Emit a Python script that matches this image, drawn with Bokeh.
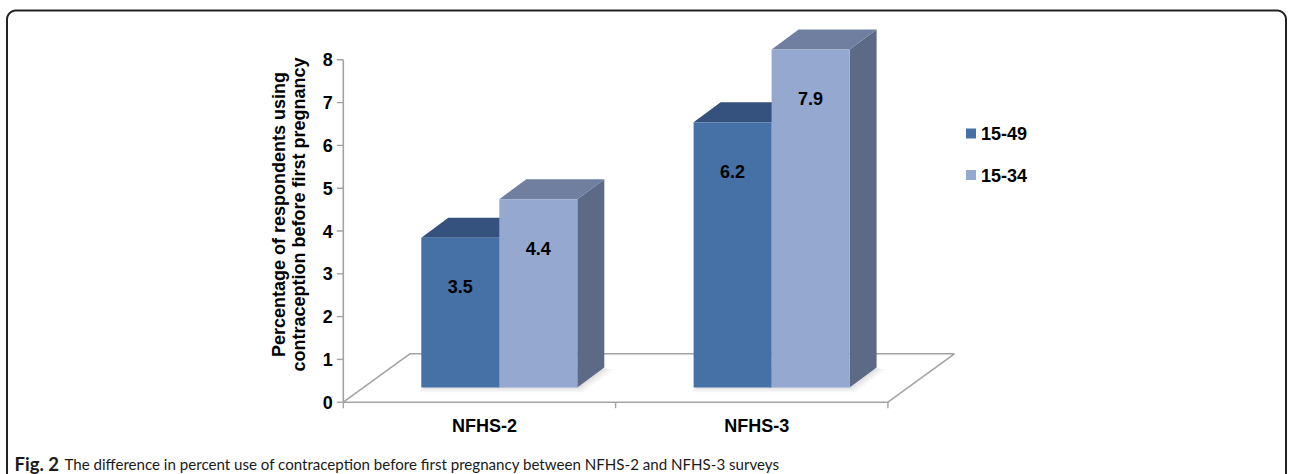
import math
from bokeh.plotting import figure
from bokeh.models import Range1d
from bokeh.core.properties import value
from bokeh.embed import file_html
from bokeh.resources import INLINE

# ---------------- data ----------------
categories = ["NFHS-2", "NFHS-3"]
series_names = ["15-49", "15-34"]
values_15_49 = [3.5, 6.2]
values_15_34 = [4.4, 7.9]
y_ticks = [0, 1, 2, 3, 4, 5, 6, 7, 8]
y_title = ["Percentage of respondents using", "contraception before first pregnancy"]
caption_bold = "Fig. 2"
caption_rest = "The difference in percent use of contraception before first pregnancy between NFHS-2 and NFHS-3 surveys"

# ---------------- layout / style ----------------
W, H = 1292, 474
PXY = 42.8          # pixels per value unit
PXX = 272.3         # pixels per category
OX = 342.8          # canvas x of axis origin
OY = 401.7          # canvas y of axis origin (from top)

def hx(px):
    return px / PXX

def vy(px):
    return px / PXY

def P(px, py):
    """canvas pixel -> data coords (for decoration only)"""
    return (px - OX) / PXX, (OY - py) / PXY

FONT = value("Liberation Sans")
CAPFONT = value("Lato")
front_cols = ["#4571A7", "#94A8D0"]
top_cols = ["#34527D", "#707F9F"]
side_cols = ["#2F4A72", "#5D6A86"]
axis_col = "#a3a3a3"

p = figure(width=W, height=H, output_backend="svg", toolbar_location=None,
           x_range=Range1d(-OX / PXX, (W - OX) / PXX),
           y_range=Range1d(-(H - OY) / PXY, OY / PXY),
           min_border=0, min_border_left=0, min_border_right=0,
           min_border_top=0, min_border_bottom=0)
p.xaxis.visible = False
p.yaxis.visible = False
p.grid.visible = False
p.outline_line_color = None
p.background_fill_color = "white"
p.border_fill_color = "white"

ncat = len(categories)

# ---------------- floor ----------------
fdx, fdy = hx(66.5), vy(48.4)
floor_x = [0, fdx, ncat + fdx, ncat, 0]
floor_y = [0, fdy, fdy, 0, 0]
p.line(floor_x, floor_y, line_color=axis_col, line_width=1.6)

# ---------------- bars ----------------
base = vy(14.7)
bw = hx(78)
ddx, ddy = hx(27), vy(20)
series_vals = [values_15_49, values_15_34]

# faint soft shadow on the floor
for ci in range(ncat):
    left = ci + bw
    right = left + 2 * bw
    for k, a in [(6.0, 0.06), (4.0, 0.07), (2.0, 0.09)]:
        sx = [left - hx(k * 0.4), right + hx(k), right + ddx + hx(k * 1.6), left + ddx]
        sy = [base - vy(k * 0.8), base - vy(k * 0.8), base + ddy - vy(k * 0.3), base + ddy]
        p.patch(sx, sy, fill_color="#7a7a7a", fill_alpha=a, line_color=None)

for ci in range(ncat):
    for si, vals in enumerate(series_vals):
        v = vals[ci]
        L = ci + bw + si * bw
        R = L + bw
        T = base + v
        p.patch([R, R + ddx, R + ddx, R], [base, base + ddy, T + ddy, T],
                fill_color=side_cols[si], line_color=None)
        p.patch([L, R, R + ddx, L + ddx], [T, T, T + ddy, T + ddy],
                fill_color=top_cols[si], line_color=None)
        p.patch([L, R, R, L], [base, base, T, T],
                fill_color=front_cols[si], line_color=None)

# value labels
lx, ly, lt = [], [], []
for ci in range(ncat):
    for si, vals in enumerate(series_vals):
        v = vals[ci]
        lx.append(ci + bw + si * bw + bw / 2)
        ly.append(base + v - vy(49))
        lt.append(f"{v:.1f}")
p.text(lx, ly, text=lt, text_font=FONT, text_font_style="bold", text_font_size="18px",
       text_align="center", text_baseline="middle", text_color="black")

# ---------------- y axis ----------------
ymax = y_ticks[-1]
p.line([0, 0], [0, ymax], line_color=axis_col, line_width=1.6)
p.segment(x0=[-hx(6.5)] * len(y_ticks), y0=y_ticks, x1=[0] * len(y_ticks), y1=y_ticks,
          line_color=axis_col, line_width=1.4)
p.text([-hx(10.5)] * len(y_ticks), y_ticks, text=[str(t) for t in y_ticks], text_font=FONT,
       text_font_style="bold", text_font_size="18px", text_align="right",
       text_baseline="middle", text_color="black")

# y title (two rotated lines)
tx0, ty0 = P(278, 214)
tx1, _ = P(298, 214)
p.text([tx0, tx1], [ty0, ty0], text=y_title, angle=math.pi / 2, text_font=FONT,
       text_font_style="bold", text_font_size="18px", text_align="center",
       text_baseline="middle", text_color="black")

# ---------------- x axis ----------------
xt = list(range(ncat + 1))
p.segment(x0=xt, y0=[0] * len(xt), x1=xt, y1=[-vy(6)] * len(xt),
          line_color=axis_col, line_width=1.4)
p.text([c + 0.5 + hx(5) for c in range(ncat)], [-vy(23.5)] * ncat, text=categories,
       text_font=FONT, text_font_style="bold", text_font_size="18px",
       text_align="center", text_baseline="middle", text_color="black")

# ---------------- legend ----------------
for si, name in enumerate(series_names):
    cx, cy = P(970.5, 133 + si * 41.5)
    p.rect([cx], [cy], width=hx(10), height=vy(10), fill_color=front_cols[si], line_color=None)
    tx, _ = P(980.5, 0)
    p.text([tx], [cy], text=[name], text_font=FONT, text_font_style="bold",
           text_font_size="18px", text_align="left", text_baseline="middle", text_color="black")

# ---------------- caption ----------------
cx, cy = P(14, 463)
p.text([cx], [cy], text=[caption_bold], text_font=CAPFONT, text_font_style="bold",
       text_font_size="18.5px", text_align="left", text_baseline="alphabetic", text_color="#1a1a1a")
cx2, _ = P(64, 463)
p.text([cx2], [cy], text=[caption_rest], text_font=CAPFONT,
       text_font_size="15.1px", text_align="left", text_baseline="alphabetic", text_color="#1a1a1a")

# ---------------- rounded frame ----------------
r = 9
xl, xr, yt, yb = 6.5, 1285.5, 10, 490
bx, by = [], []
pts = [(xl, yb), (xl, yt + r)]
for k in range(0, 11):
    a = math.pi + k * (math.pi / 2) / 10
    pts.append((xl + r + r * math.cos(a), yt + r + r * math.sin(a)))
for k in range(0, 11):
    a = 1.5 * math.pi + k * (math.pi / 2) / 10
    pts.append((xr - r + r * math.cos(a), yt + r + r * math.sin(a)))
pts.append((xr, yb))
for (px, py) in pts:
    dx_, dy_ = P(px, py)
    bx.append(dx_)
    by.append(dy_)
p.line(bx, by, line_color="#222222", line_width=2)

open("out.html", "w").write(file_html(p, INLINE))
